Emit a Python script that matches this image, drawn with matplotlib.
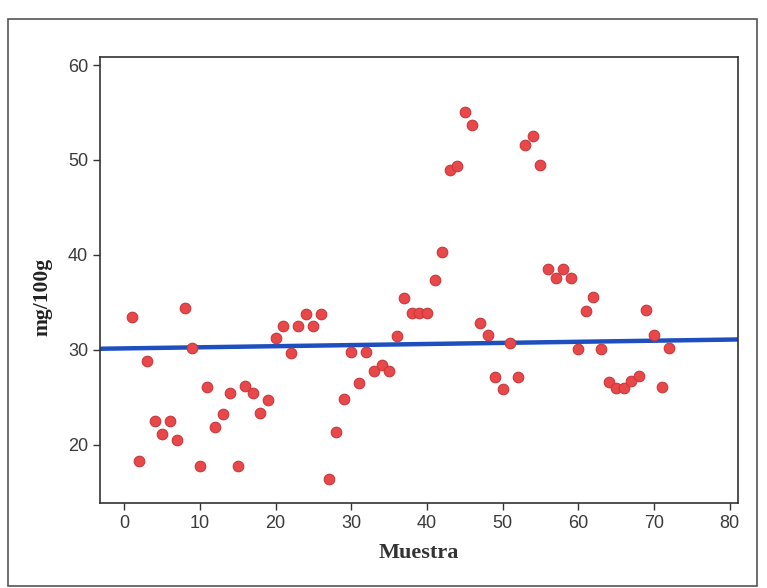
import numpy as np
import matplotlib
matplotlib.use('Agg')
import matplotlib.pyplot as plt
from matplotlib.patches import Rectangle

# datos
muestra = list(range(1, 73))
valores = [33.5, 18.3, 28.8, 22.5, 21.1, 22.5, 20.5, 34.4, 30.2, 17.7,
           26.1, 21.9, 23.2, 25.4, 17.7, 26.2, 25.4, 23.3, 24.7, 31.2,
           32.5, 29.7, 32.5, 33.8, 32.5, 33.8, 16.4, 21.3, 24.8, 29.8,
           26.5, 29.8, 27.8, 28.4, 27.8, 31.4, 35.4, 33.9, 33.9, 33.9,
           37.4, 40.3, 48.9, 49.4, 55.0, 53.7, 32.8, 31.5, 27.1, 25.9,
           30.7, 27.1, 51.6, 52.5, 49.5, 38.5, 37.6, 38.5, 37.6, 30.1,
           34.1, 35.6, 30.1, 26.6, 26.0, 26.0, 26.7, 27.2, 34.2, 31.6,
           26.1, 30.2]
# recta de tendencia
intercepto = 30.14
pendiente = 0.0116

xticks = [0, 10, 20, 30, 40, 50, 60, 70, 80]
yticks = [20, 30, 40, 50, 60]

fig = plt.figure(figsize=(7.67, 5.88), dpi=100)
ax = fig.add_axes([0.1304, 0.1446, 0.8318, 0.7585])

# marco exterior
fig.patches.append(Rectangle((0.010, 0.004), 0.977, 0.963, transform=fig.transFigure,
                             fill=False, edgecolor='#555555', linewidth=1.2))

ax.scatter(muestra, valores, s=58, color='#e9484b', edgecolors='#c9383b',
           linewidths=0.8, zorder=3)

xl = np.array([-3.2, 81.1])
ax.plot(xl, intercepto + pendiente * xl, color='#1d4fbf', linewidth=3.2, zorder=2)

ax.set_xlim(-3.2, 81.1)
ax.set_ylim(13.85, 60.85)
ax.set_xticks(xticks)
ax.set_yticks(yticks)

for s in ax.spines.values():
    s.set_linewidth(1.2)
    s.set_color('#333333')

ax.tick_params(direction='out', length=5, width=1, colors='#333333',
               labelsize=13, labelcolor='#3a3a3a')
for lab in ax.get_xticklabels() + ax.get_yticklabels():
    lab.set_family('Liberation Sans')

ax.set_xlabel('Muestra', family='Liberation Serif', fontweight='bold',
              fontsize=16, color='#333333', labelpad=8)
ax.set_ylabel('mg/100g', family='Liberation Serif', fontweight='bold',
              fontsize=15.5, color='#222222')
ax.yaxis.set_label_coords(-0.075, 0.462)

fig.savefig('out.png', dpi=100)
